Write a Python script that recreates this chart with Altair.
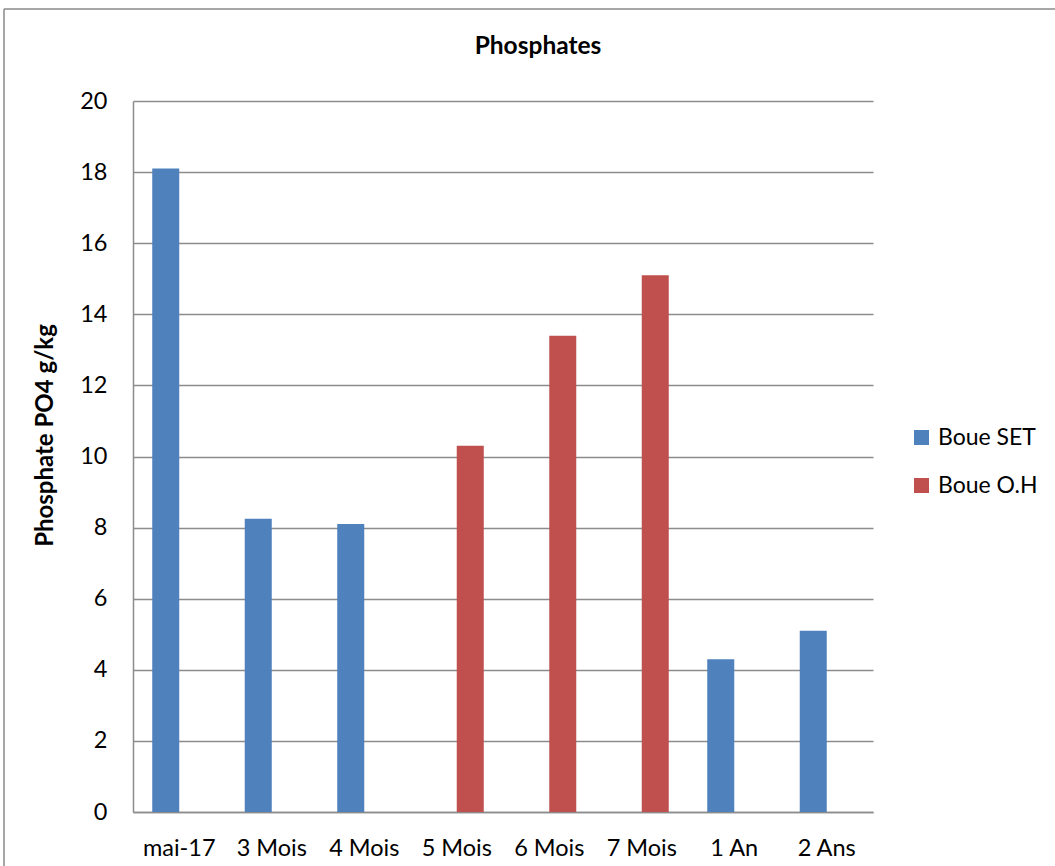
import altair as alt
import pandas as pd

# Sampling periods and phosphate content (g/kg) per sludge type
periods = ["mai-17", "3 Mois", "4 Mois", "5 Mois", "6 Mois", "7 Mois", "1 An", "2 Ans"]
boue_set = [18.1, 8.25, 8.1, None, None, None, 4.3, 5.1]
boue_oh = [None, None, None, 10.3, 13.4, 15.1, None, None]
series = ["Boue SET", "Boue O.H"]
colors = ["#4F81BD", "#C0504D"]
y_ticks = [0, 2, 4, 6, 8, 10, 12, 14, 16, 18, 20]
chart_title = "Phosphates"

rows = []
for name, values in zip(series, [boue_set, boue_oh]):
    for p, v in zip(periods, values):
        if v is not None:
            rows.append({"Période": p, "Série": name, "Valeur": v})
df = pd.DataFrame(rows)

FONT = "Lato"
GRID = "#8c8c8c"

bars = alt.Chart(df).mark_bar().encode(
    x=alt.X(
        "Période:N",
        sort=periods,
        scale=alt.Scale(domain=periods, paddingInner=0.416, paddingOuter=0.208),
        axis=alt.Axis(
            title=None,
            labelAngle=0,
            ticks=False,
            labelPadding=36,
            labelBaseline="middle",
            labelFontSize=23.5,
            labelFont=FONT,
            labelColor="#000000",
            domainColor=GRID,
            domainWidth=1.5,
            grid=False,
        ),
    ),
    xOffset=alt.XOffset(
        "Série:N",
        sort=series,
        scale=alt.Scale(domain=series, paddingInner=0, paddingOuter=0),
    ),
    y=alt.Y(
        "Valeur:Q",
        scale=alt.Scale(domain=[0, 20], nice=False),
        axis=alt.Axis(
            title="Phosphate PO4 g/kg",
            values=y_ticks,
            ticks=False,
            labelPadding=26,
            labelFontSize=23.5,
            labelFont=FONT,
            labelColor="#000000",
            titleFont=FONT,
            titleFontSize=24,
            titleFontWeight="bold",
            titleColor="#000000",
            titleAngle=-90,
            titleX=-88,
            titleY=334,
            titleAlign="center",
            titleBaseline="middle",
            domainColor=GRID,
            domainWidth=1.5,
            gridColor=GRID,
            gridWidth=1.5,
        ),
    ),
    color=alt.Color(
        "Série:N",
        sort=series,
        scale=alt.Scale(domain=series, range=colors),
        legend=alt.Legend(
            title=None,
            orient="none",
            legendX=777,
            legendY=325,
            symbolType="square",
            symbolSize=225,
            symbolStrokeWidth=0,
            labelFont=FONT,
            labelFontSize=23,
            labelColor="#000000",
            labelOffset=5,
            rowPadding=24,
            padding=0,
        ),
    ),
)

# Chart heading drawn above the plot area
heading = alt.Chart(alt.Data(values=[{"t": chart_title}])).mark_text(
    font=FONT, fontSize=24.5, fontWeight="bold", color="#000000", align="center", baseline="middle"
).encode(text="t:N", x=alt.value(405), y=alt.value(-54))

# Outer chart frame (top and left edges)
frame_top = alt.Chart(alt.Data(values=[{}])).mark_rule(color="#8a8a8a", strokeWidth=1.5).encode(
    x=alt.value(-129), x2=alt.value(940), y=alt.value(-92)
)
frame_left = alt.Chart(alt.Data(values=[{}])).mark_rule(color="#8a8a8a", strokeWidth=1.5).encode(
    x=alt.value(-129), y=alt.value(-92), y2=alt.value(800)
)

chart = alt.layer(bars, heading, frame_top, frame_left).properties(
    width=740,
    height=711,
    autosize=alt.AutoSizeParams(type="none"),
    padding={"left": 133, "top": 101, "right": 182, "bottom": 54},
    background="#ffffff",
).configure_view(stroke=None)

chart.save("out.html", embed_options={"renderer": "svg", "actions": False})
